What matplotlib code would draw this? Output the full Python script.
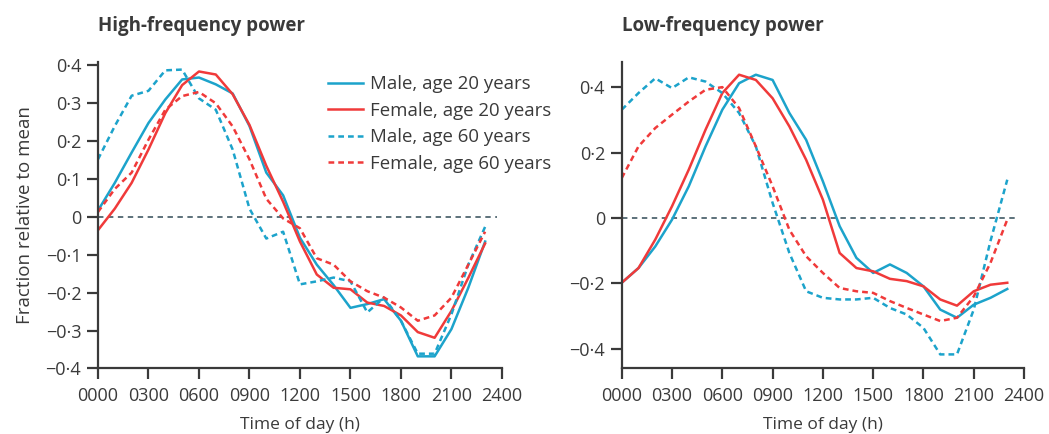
import numpy as np
import matplotlib
matplotlib.use('Agg')
import matplotlib.pyplot as plt

plt.rcParams['font.family'] = ['Open Sans', 'DejaVu Sans']

# hours of the day, one point per hour
hours = list(range(24))

# high-frequency power
hf_male_20 = [0.017, 0.09, 0.17, 0.248, 0.31, 0.363, 0.368, 0.35, 0.326, 0.24,
              0.117, 0.057, -0.055, -0.126, -0.18, -0.24, -0.23, -0.217, -0.274,
              -0.368, -0.368, -0.296, -0.187, -0.065]
hf_female_20 = [-0.035, 0.022, 0.09, 0.178, 0.274, 0.348, 0.384, 0.376, 0.324,
                0.243, 0.135, 0.04, -0.065, -0.152, -0.187, -0.191, -0.226,
                -0.235, -0.26, -0.304, -0.319, -0.248, -0.161, -0.07]
hf_male_60 = [0.152, 0.24, 0.32, 0.333, 0.387, 0.389, 0.313, 0.283, 0.178, 0.022,
              -0.057, -0.039, -0.178, -0.17, -0.16, -0.17, -0.252, -0.213,
              -0.274, -0.361, -0.361, -0.257, -0.126, -0.026]
hf_female_60 = [0.013, 0.074, 0.117, 0.204, 0.283, 0.319, 0.33, 0.3, 0.239,
                0.152, 0.048, -0.004, -0.03, -0.109, -0.126, -0.17, -0.196,
                -0.213, -0.239, -0.274, -0.26, -0.213, -0.126, -0.039]

# low-frequency power
lf_male_20 = [-0.198, -0.153, -0.087, -0.005, 0.097, 0.219, 0.331, 0.412, 0.438,
              0.422, 0.321, 0.239, 0.112, -0.025, -0.122, -0.168, -0.142, -0.168,
              -0.209, -0.28, -0.305, -0.265, -0.244, -0.217]
lf_female_20 = [-0.198, -0.153, -0.066, 0.036, 0.148, 0.27, 0.382, 0.438, 0.422,
                0.366, 0.28, 0.178, 0.056, -0.107, -0.153, -0.163, -0.186, -0.193,
                -0.209, -0.249, -0.268, -0.224, -0.204, -0.198]
lf_male_60 = [0.331, 0.382, 0.427, 0.397, 0.43, 0.417, 0.382, 0.321, 0.219, 0.046,
              -0.107, -0.224, -0.244, -0.249, -0.249, -0.244, -0.275, -0.295,
              -0.336, -0.417, -0.417, -0.28, -0.07, 0.117]
lf_female_60 = [0.122, 0.219, 0.275, 0.316, 0.356, 0.392, 0.4, 0.336, 0.219, 0.097,
                -0.036, -0.117, -0.168, -0.214, -0.224, -0.229, -0.254, -0.275,
                -0.295, -0.315, -0.305, -0.24, -0.137, -0.005]

xtick_vals = [0, 3, 6, 9, 12, 15, 18, 21, 24]
xtick_labels = ['0000', '0300', '0600', '0900', '1200', '1500', '1800', '2100', '2400']
hf_yticks = [-0.4, -0.3, -0.2, -0.1, 0, 0.1, 0.2, 0.3, 0.4]
hf_ylabels = ['\u22120\u00b74', '\u22120\u00b73', '\u22120\u00b72', '\u22120\u00b71', '0',
              '0\u00b71', '0\u00b72', '0\u00b73', '0\u00b74']
lf_yticks = [-0.4, -0.2, 0, 0.2, 0.4]
lf_ylabels = ['\u22120\u00b74', '\u22120\u00b72', '0', '0\u00b72', '0\u00b74']

blue = '#1ca3cb'
red = '#f03a3a'
txt = '#3a3a3a'
dash = (0, (2.3, 1.6))

fig = plt.figure(figsize=(10.49, 4.34), dpi=100)
ax1 = fig.add_axes([0.0934, 0.151, 0.3851, 0.707])
ax2 = fig.add_axes([0.5927, 0.151, 0.3835, 0.707])


def draw(ax, m20, f20, m60, f60, yticks, ylabels, ylim, title):
    ax.hlines(0, 0, 23.7, colors='#4f6670', linestyles=(0, (3, 2.5)), linewidth=1.3)
    ax.plot(hours, m20, color=blue, lw=1.8, label='Male, age 20 years')
    ax.plot(hours, f20, color=red, lw=1.8, label='Female, age 20 years')
    ax.plot(hours, m60, color=blue, lw=1.8, ls=dash, label='Male, age 60 years')
    ax.plot(hours, f60, color=red, lw=1.8, ls=dash, label='Female, age 60 years')
    ax.set_xlim(0, 24)
    ax.set_ylim(*ylim)
    ax.set_xticks(xtick_vals)
    ax.set_xticklabels(xtick_labels)
    ax.set_yticks(yticks)
    ax.set_yticklabels(ylabels)
    for s in ['top', 'right']:
        ax.spines[s].set_visible(False)
    for s in ['left', 'bottom']:
        ax.spines[s].set_color('#3a3a3a')
        ax.spines[s].set_linewidth(1.6)
    ax.tick_params(direction='out', length=8, width=1.6, color='#3a3a3a',
                   labelsize=13, labelcolor=txt)
    ax.tick_params(axis='x', pad=5)
    ax.tick_params(axis='y', pad=4)
    ax.set_xlabel('Time of day (h)', fontsize=12.5, color=txt, labelpad=9)
    ax.set_title(title, fontsize=13.5, fontweight='bold', color=txt, loc='left',
                 x=0.0, y=1.0, pad=22)


draw(ax1, hf_male_20, hf_female_20, hf_male_60, hf_female_60,
     hf_yticks, hf_ylabels, (-0.4, 0.41), 'High-frequency power')
draw(ax2, lf_male_20, lf_female_20, lf_male_60, lf_female_60,
     lf_yticks, lf_ylabels, (-0.46, 0.478), 'Low-frequency power')

ax1.set_ylabel('Fraction relative to mean', fontsize=13.5, color=txt, labelpad=8)
leg = ax1.legend(loc='upper left', bbox_to_anchor=(0.55, 0.98), frameon=False,
                 fontsize=13.4, handlelength=1.9, handletextpad=0.38,
                 labelspacing=0.46, borderaxespad=0)
for t in leg.get_texts():
    t.set_color(txt)

fig.savefig('out.png', dpi=100)
